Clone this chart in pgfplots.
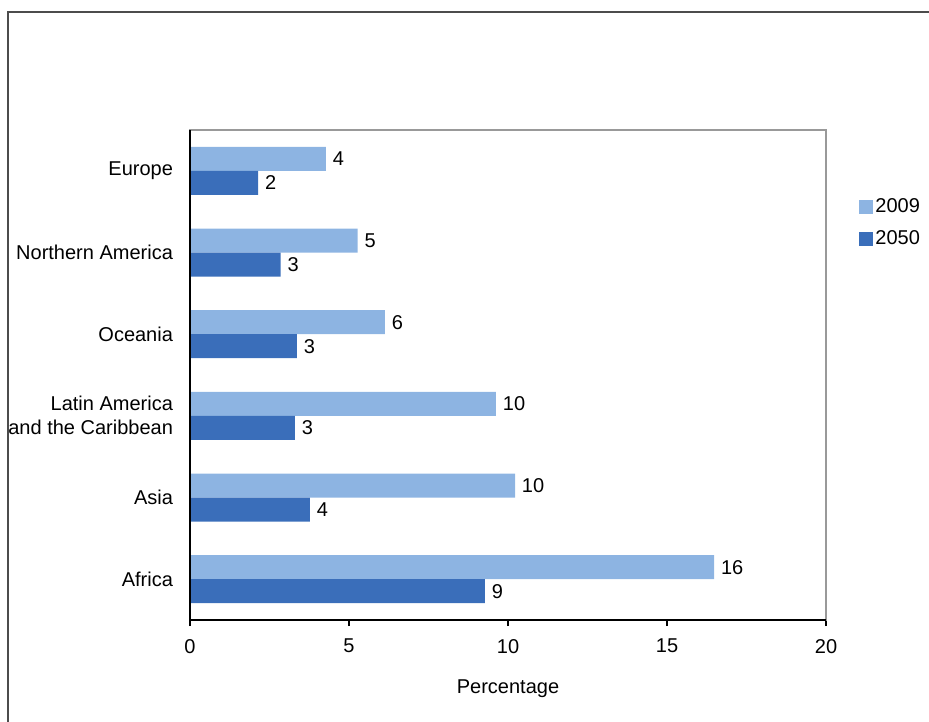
\documentclass[border=0pt]{standalone}
\usepackage{fontspec}
\setmainfont{Liberation Sans}
\usepackage{pgfplots}
\pgfplotsset{compat=1.18}
\definecolor{c2009}{RGB}{141,180,226}
\definecolor{c2050}{RGB}{58,110,186}
\begin{document}
\fontsize{10bp}{12bp}\selectfont
\begin{tikzpicture}
\useasboundingbox (0,0) rectangle (464.5bp,361bp);
\draw[line width=0.9bp, black!70] (4bp,0) -- (4bp,355bp) -- (470bp,355bp);
\begin{axis}[
  at={(95bp,51bp)}, anchor=south west, scale only axis,
  width=318bp, height=245bp,
  xbar, bar width=12bp,
  xmin=0, xmax=20, ymin=-0.5, ymax=5.5,
  xtick={0,5,10,15,20}, ytick={0,1,2,3,4,5},
  xtick pos=bottom,
  yticklabels={Africa, Asia, {Latin America\\and the Caribbean}, Oceania, Northern America, Europe},
  yticklabel style={align=right, font=\fontsize{10bp}{12bp}\selectfont, xshift=-2bp},
  xticklabel style={font=\fontsize{10bp}{12bp}\selectfont, yshift=-3bp},
  ytick style={draw=none},
  xtick style={black, line width=0.7bp},
  tick align=outside, major tick length=3bp,
  axis line style={black!40, line width=0.7bp},
  /pgf/number format/assume math mode=true,
  /pgf/number format/fixed, /pgf/number format/precision=0,
  xlabel={Percentage},
  xlabel style={at={(axis description cs:0.5,0)}, anchor=center, yshift=-34.5bp, font=\fontsize{10bp}{12bp}\selectfont},
  nodes near coords,
  nodes near coords style={font=\fontsize{10bp}{12bp}\selectfont, black, inner sep=3.3bp},
  legend style={at={(axis description cs:1.052,0.865)}, anchor=north west, draw=none, fill=none,
    font=\fontsize{10bp}{12bp}\selectfont, row sep=5.5bp, inner sep=0pt,
    nodes={inner sep=1bp}},
  legend image code/.code={\fill[#1] (0bp,-3.5bp) rectangle (7bp,3.5bp);},
  clip=false,
]
\addplot[fill=c2009, draw=none, bar shift=6bp] coordinates {
  (16.48,0) (10.22,1) (9.62,2) (6.13,3) (5.27,4) (4.27,5)};
\addplot[fill=c2050, draw=none, bar shift=-6bp] coordinates {
  (9.27,0) (3.77,1) (3.30,2) (3.36,3) (2.85,4) (2.14,5)};
\legend{2009,2050}
\draw[black, line width=0.8bp] (rel axis cs:0,1) -- (rel axis cs:0,0) -- (rel axis cs:1,0);
\end{axis}
\end{tikzpicture}
\end{document}
